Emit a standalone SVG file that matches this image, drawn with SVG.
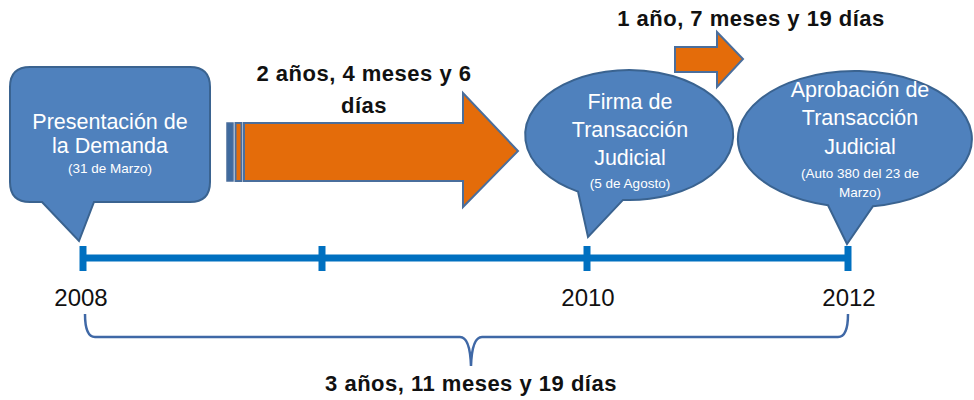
<svg xmlns="http://www.w3.org/2000/svg" width="974" height="400" viewBox="0 0 974 400">
<style>
.callout{fill:#4F81BD;stroke:#3A6390;stroke-width:2}
.arrow{fill:#E46C0A;stroke:#4A6E9C;stroke-width:2}
.wt{font-family:"Liberation Sans",Arial,sans-serif;fill:#FFFFFF;text-anchor:middle}
.big{font-size:21.5px}
.small{font-size:13.5px}
.lbl{font-family:"Liberation Sans",Arial,sans-serif;font-weight:bold;font-size:22px;letter-spacing:0.5px;fill:#111111;text-anchor:middle}
.year{font-family:"Liberation Sans",Arial,sans-serif;font-size:24px;fill:#111111;text-anchor:middle}
.tl{stroke:#0070C0;stroke-width:7;fill:none}
.brace{stroke:#3F68A6;stroke-width:2.5;fill:none}
</style>
<rect width="974" height="400" fill="#FFFFFF"/>
<g id="connectors">
<line class="tl" x1="83" y1="258" x2="848" y2="258"/>
<line class="tl" x1="83" y1="246" x2="83" y2="271"/>
<line class="tl" x1="322" y1="246" x2="322" y2="271"/>
<line class="tl" x1="587" y1="246" x2="587" y2="271"/>
<line class="tl" x1="848" y1="246" x2="848" y2="271"/>
<path class="brace" d="M85 314 Q85 337 95 337 H460 Q470 337 471 366 Q472 337 482 337 H838 Q848 337 848 314"/>
</g>
<g id="arrow-2y">
<rect x="227" y="123" width="6" height="58" fill="#3F6A9E" stroke="#4A6E9C" stroke-width="1.5"/>
<rect x="235.5" y="123" width="6" height="58" class="arrow" stroke-width="1.5"/>
<path class="arrow" d="M244 123 H463 V93 L518 151 L463 207 V181 H244 Z"/>
<text class="lbl" x="364" y="81">2 años, 4 meses y 6</text>
<text class="lbl" x="364" y="113">días</text>
</g>
<g id="arrow-1y">
<path class="arrow" d="M675 47 H717 V32 L743 59 L717 87 V72 H675 Z"/>
<text class="lbl" x="751" y="26">1 año, 7 meses y 19 días</text>
</g>
<g id="node-presentacion">
<path class="callout" d="M30 67 H190 Q210 67 210 87 V182 Q210 202 190 202 H94 L79 241 L42 202 H30 Q10 202 10 182 V87 Q10 67 30 67 Z"/>
<text class="wt big" x="110" y="129">Presentación de</text>
<text class="wt big" x="110" y="153">la Demanda</text>
<text class="wt small" x="110" y="173">(31 de Marzo)</text>
</g>
<g id="node-firma">
<path class="callout" d="M578 191.6 A104 65 0 1 1 623 199.9 L588 237 Z"/>
<text class="wt big" x="630" y="109">Firma de</text>
<text class="wt big" x="630" y="137">Transacción</text>
<text class="wt big" x="630" y="165">Judicial</text>
<text class="wt small" x="630" y="188">(5 de Agosto)</text>
</g>
<g id="node-aprobacion">
<path class="callout" d="M828 205.2 A117 68 0 1 1 873 206.2 L847 244 Z"/>
<text class="wt big" x="860" y="97">Aprobación de</text>
<text class="wt big" x="860" y="125">Transacción</text>
<text class="wt big" x="860" y="154">Judicial</text>
<text class="wt small" x="860" y="178">(Auto 380 del 23 de</text>
<text class="wt small" x="860" y="197">Marzo)</text>
</g>
<g id="years">
<text class="year" x="81" y="306">2008</text>
<text class="year" x="588" y="306">2010</text>
<text class="year" x="849" y="306">2012</text>
</g>
<text class="lbl" x="471" y="391">3 años, 11 meses y 19 días</text>
</svg>
